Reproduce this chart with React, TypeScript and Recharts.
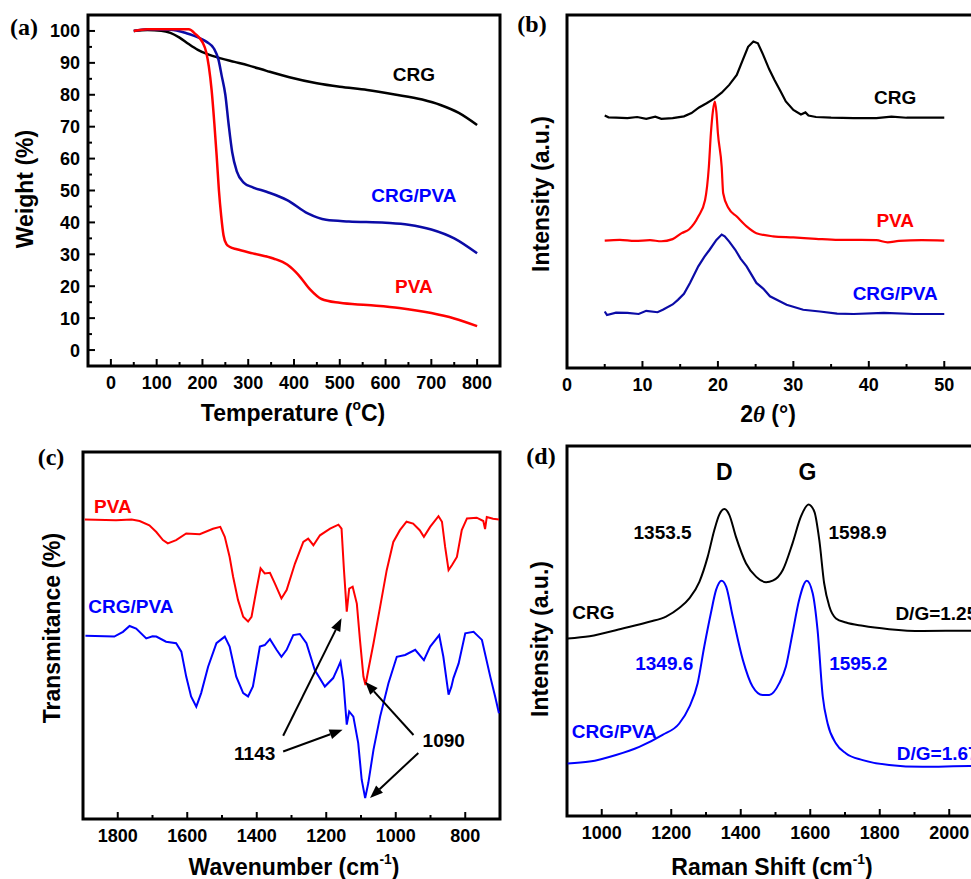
import React from 'react'
import {
  LineChart,
  Line,
  XAxis,
  YAxis,
  ReferenceArea,
  ReferenceDot,
  ReferenceLine,
} from 'recharts'

type Pt = [number, number]

// (a) TGA — temperature (°C), weight (%)
const tgaCrg: Pt[] = [
  [50, 100], [80, 100.3], [110, 100.1], [130, 99.4], [150, 97.9], [170, 95.9],
  [190, 94.1], [210, 92.8], [240, 91.4], [270, 90.3], [300, 89.2], [340, 87.5],
  [390, 85.5], [450, 83.6], [500, 82.5], [560, 81.5], [620, 80.1], [680, 78.5],
  [720, 76.8], [760, 74.3], [800, 70.5],
]
const tgaCrgPva: Pt[] = [
  [50, 100], [80, 100.5], [130, 100.4], [165, 99.3], [195, 97.7], [210, 96.5],
  [225, 94.5], [235, 91], [242, 86], [250, 80], [257, 71], [265, 62], [275, 56],
  [290, 52.5], [310, 51], [340, 49.6], [385, 47], [430, 42.8], [470, 40.8],
  [520, 40.3], [600, 39.9], [650, 39.3], [700, 37.8], [750, 35], [800, 30.3],
]
const tgaPva: Pt[] = [
  [50, 100], [80, 100.5], [170, 100.5], [185, 99], [200, 96.5], [208, 93.5],
  [214, 88.8], [220, 81.5], [226, 71], [231, 61], [236, 50], [241, 42], [246, 36],
  [252, 33.3], [260, 32.3], [275, 31.6], [310, 30.3], [355, 28.7], [385, 26.8],
  [410, 23.5], [435, 19], [460, 16], [500, 14.8], [560, 14.1], [630, 13.2],
  [700, 11.6], [750, 9.9], [800, 7.5],
]
const tgaXTicks = [0, 50, 100, 150, 200, 250, 300, 350, 400, 450, 500, 550, 600, 650, 700, 750, 800]
const tgaXLabels = [0, 100, 200, 300, 400, 500, 600, 700, 800]
const tgaYTicks = [0, 5, 10, 15, 20, 25, 30, 35, 40, 45, 50, 55, 60, 65, 70, 75, 80, 85, 90, 95, 100]
const tgaYLabels = [0, 10, 20, 30, 40, 50, 60, 70, 80, 90, 100]

// (b) XRD — 2θ (°), intensity (a.u.)
const xrdCrg: Pt[] = [
  [5, 71.5], [5.5, 71], [6.5, 70.9], [8, 70.8], [9.3, 71.1], [10.5, 70.6], [11.7, 71.2],
  [12.5, 70.6], [14, 70.8], [15.5, 71.3], [16.5, 72.2], [17.5, 73.8], [18.5, 75], [19.5, 76.3],
  [20.5, 78], [21.5, 80.2], [22.5, 83], [23.3, 87.3], [24, 91], [24.7, 92.5], [25.3, 92],
  [26, 88.7], [26.8, 84.6], [27.5, 81.6], [28.3, 78.4], [29, 75.5], [30, 73.1], [31, 71.8],
  [31.6, 72.4], [32, 71.5], [33, 71.1], [35, 70.9], [38, 70.8], [41, 70.8], [43, 71.2],
  [45, 70.9], [48, 70.9], [50, 70.9],
]
const xrdPva: Pt[] = [
  [5, 36.1], [7, 36.3], [9, 36], [11, 36.2], [12.5, 35.9], [14, 36.5], [15.2, 38.2],
  [16.2, 39.3], [17.4, 42.9], [18.3, 47.6], [18.8, 57], [19.07, 66.5], [19.35, 73],
  [19.6, 75.5], [19.8, 72.5], [20, 66.5], [20.5, 57], [20.7, 49.5], [21.4, 45.3],
  [22.5, 42.9], [23.8, 40.1], [25.1, 38.2], [27.3, 37.3], [30, 37], [33, 36.6],
  [36, 36.3], [39, 36.3], [41, 36.2], [42.5, 35.6], [44, 36], [47, 36.2], [50, 36.1],
]
const xrdCrgPva: Pt[] = [
  [5, 16], [5.3, 15], [6.5, 15.7], [8, 15.6], [9.5, 15.3], [10.5, 16.2], [12, 15.8],
  [12.7, 16.5], [14, 18], [14.7, 19.3], [15.5, 21], [16.3, 24.1], [17.4, 28.8],
  [18.2, 31.5], [18.9, 33.5], [19.8, 36.3], [20.5, 37.8], [20.9, 37.3], [21.5, 35.8],
  [22.3, 33.5], [23, 31], [23.8, 28.8], [25.1, 24.1], [26, 22.5], [26.9, 20.3],
  [29.1, 17.9], [31.3, 16.5], [33.5, 16], [35.8, 15.4], [38, 15.3], [42, 15.6],
  [46, 15.3], [50, 15.3],
]
const xrdXTicks = [0, 5, 10, 15, 20, 25, 30, 35, 40, 45, 50]
const xrdXLabels = [0, 10, 20, 30, 40, 50]

// (c) FTIR — wavenumber (cm-1), transmittance
const ftirPva: Pt[] = [
  [1895, 81.6], [1805, 81.4], [1760, 81.6], [1737, 81.2], [1709, 80], [1689, 78.2],
  [1670, 76], [1656, 75.1], [1632, 76], [1603, 77.8], [1564, 77.6], [1526, 79.1],
  [1505, 79.6], [1492, 76.9], [1478, 71.4], [1468, 66], [1454, 59.7], [1439, 55.1],
  [1425, 53.8], [1415, 55.1], [1401, 62.4], [1389, 68.3], [1377, 66.9], [1362, 67.1],
  [1348, 64.2], [1329, 60.1], [1314, 62.4], [1290, 69.6], [1266, 75.5], [1252, 76.4],
  [1237, 74.6], [1218, 77.3], [1189, 79.1], [1165, 80.2], [1156, 79.1], [1149, 67.8],
  [1141, 56.5], [1134, 62.8], [1124, 63.3], [1112, 58.7], [1103, 48.8], [1093, 38.8],
  [1087, 36.5], [1079, 40.6], [1064, 47.9], [1045, 57.8], [1026, 67.8], [1007, 75.5],
  [988, 78.7], [969, 81], [950, 80.5], [931, 78.7], [919, 76.9], [901, 79.6], [877, 82.5],
  [867, 81], [858, 74.2], [848, 67.8], [838, 69.2], [824, 71.4], [810, 78.7], [795, 81.9],
  [767, 82.1], [748, 81.2], [743, 79], [738, 82.3], [720, 81.8], [703, 81.6],
]
const ftirCrgPva: Pt[] = [
  [1893, 49.9], [1810, 49.7], [1785, 51], [1766, 52.6], [1747, 51.9], [1718, 49.2],
  [1700, 49.8], [1689, 49.7], [1661, 48.3], [1632, 47.9], [1617, 45.6], [1603, 38.8],
  [1589, 33.4], [1574, 30.6], [1560, 34.3], [1540, 41.5], [1516, 47.9], [1492, 49.7],
  [1478, 47], [1459, 38.8], [1439, 34.3], [1425, 33.4], [1411, 36.1], [1391, 47],
  [1377, 47.4], [1362, 49], [1343, 46.1], [1329, 44.2], [1314, 46.1], [1295, 50.1],
  [1276, 50.4], [1257, 47.9], [1233, 40.6], [1204, 36.1], [1180, 38.4], [1165, 41.5],
  [1159, 42.8], [1151, 37.8], [1141, 25.7], [1134, 29.3], [1122, 27.9], [1108, 20.7],
  [1098, 10.7], [1088, 5.7], [1079, 9.8], [1064, 18.9], [1045, 27.9], [1021, 37],
  [997, 44.2], [973, 44.7], [944, 46.1], [919, 43.3], [901, 47], [875, 50.1], [863, 44.2],
  [848, 33.9], [840, 36], [834, 38.4], [819, 42.4], [800, 50.6], [776, 51], [752, 48.8],
  [728, 38.8], [714, 33.4], [703, 28.8],
]
const ftirXTicks = [1800, 1700, 1600, 1500, 1400, 1300, 1200, 1100, 1000, 900, 800]
const ftirXLabels = [1800, 1600, 1400, 1200, 1000, 800]
// arrows: [from, to] in (wavenumber, transmittance)
const ftirArrows: [Pt, Pt][] = [
  [[1324, 22.7], [1156, 54.7]],
  [[1324, 18.4], [1153, 24.3]],
  [[949, 22.9], [1088, 37.4]],
  [[935, 18], [1074, 5.7]],
]

// (d) Raman — shift (cm-1), intensity (a.u.)
const ramanCrg: Pt[] = [
  [902, 48], [965, 48.6], [1060, 50.7], [1137, 52.5], [1185, 53.9], [1223, 56.2],
  [1252, 58.8], [1281, 63.3], [1305, 70.1], [1324, 77.3], [1338, 81.4], [1353, 83],
  [1367, 81.4], [1386, 75.5], [1415, 68.3], [1444, 64.7], [1473, 63.2], [1492, 63.6],
  [1521, 66.5], [1549, 73.7], [1573, 80.9], [1595, 84.2], [1612, 82.2], [1626, 74.6],
  [1640, 62.9], [1655, 56.6], [1674, 53.4], [1703, 52.3], [1751, 51.4], [1827, 50.5],
  [1923, 50], [2058, 50.1], [2100, 50.1],
]
const ramanCrgPva: Pt[] = [
  [902, 14.2], [965, 14.7], [1041, 16.5], [1108, 18.7], [1175, 21.9], [1223, 25],
  [1252, 29.5], [1276, 35.9], [1295, 45.8], [1314, 54.8], [1329, 61.1], [1345, 63.6],
  [1358, 62], [1377, 53.9], [1406, 42.2], [1434, 35], [1463, 32.7], [1482, 32.7],
  [1511, 35.9], [1530, 40.4], [1549, 49.4], [1568, 58.4], [1590, 63.6], [1607, 60.2],
  [1621, 50.3], [1636, 32.3], [1650, 25], [1674, 19.6], [1703, 16.9], [1751, 15.1],
  [1827, 13.8], [1923, 13.3], [2058, 13.5], [2100, 13.5],
]
const ramanXTicks = [1000, 1100, 1200, 1300, 1400, 1500, 1600, 1700, 1800, 1900, 2000]
const ramanXLabels = [1000, 1200, 1400, 1600, 1800, 2000]

const SANS = '"Liberation Sans", Arial, Helvetica, sans-serif'
const SERIF = '"Liberation Serif", "Times New Roman", serif'
const RED = '#ff0000'
const BLUE = '#0000ff'
const NAVY = '#0b0ba6'

const PAD_L = 60
const PAD_T = 6
const PAD_R = 6
const PAD_B = 40
const TM = 4

const rows = (pts: Pt[]) => pts.map(([x, y]) => ({ x, y }))

const bottomTick = (labels: number[]) => (props: any) => {
  const { x, y, payload } = props
  const axisY = y - TM
  const major = labels.includes(payload.value)
  return (
    <g>
      <line x1={x} x2={x} y1={axisY} y2={axisY - (major ? 7 : 4)} stroke="#000" strokeWidth={2} />
      {major ? (
        <text x={x} y={axisY + 23} textAnchor="middle" fontFamily={SANS} fontWeight="bold" fontSize={18} fill="#000">
          {payload.value}
        </text>
      ) : null}
    </g>
  )
}

const leftTick = (labels: number[]) => (props: any) => {
  const { x, y, payload } = props
  const axisX = x + TM
  const major = labels.includes(payload.value)
  return (
    <g>
      <line x1={axisX} x2={axisX + (major ? 7 : 4)} y1={y} y2={y} stroke="#000" strokeWidth={2} />
      {major ? (
        <text x={axisX - 8} y={y + 6.5} textAnchor="end" fontFamily={SANS} fontWeight="bold" fontSize={18} fill="#000">
          {payload.value}
        </text>
      ) : null}
    </g>
  )
}

const note = (key: string, x: number, y: number, text: string, color: string, size = 19, anchor = 'middle') => (
  <ReferenceDot
    key={key}
    x={x}
    y={y}
    r={0}
    ifOverflow="visible"
    isFront
    shape={(p: any) => (
      <text x={p.cx} y={p.cy} dy="0.36em" textAnchor={anchor} fontFamily={SANS} fontWeight="bold" fontSize={size} fill={color}>
        {text}
      </text>
    )}
  />
)

const arrowShape = (p: any) => {
  const { x1, y1, x2, y2 } = p
  const a = Math.atan2(y2 - y1, x2 - x1)
  const len = 13
  const half = 5
  const bx = x2 - len * Math.cos(a)
  const by = y2 - len * Math.sin(a)
  const nx = -Math.sin(a) * half
  const ny = Math.cos(a) * half
  return (
    <g>
      <line x1={x1} y1={y1} x2={bx} y2={by} stroke="#000" strokeWidth={2} />
      <polygon points={`${x2},${y2} ${bx + nx},${by + ny} ${bx - nx},${by - ny}`} fill="#000" />
    </g>
  )
}

interface Box {
  left: number
  top: number
  width: number
  height: number
}

interface PanelProps {
  box: Box
  xDomain: [number, number]
  yDomain: [number, number]
  xTicks: number[]
  xLabels: number[]
  yTicks?: number[]
  yLabels?: number[]
  reversed?: boolean
  children: React.ReactNode
}

function Panel({ box, xDomain, yDomain, xTicks, xLabels, yTicks, yLabels, reversed, children }: PanelProps) {
  return (
    <div style={{ position: 'absolute', left: box.left - PAD_L, top: box.top - PAD_T }}>
      <LineChart
        width={PAD_L + box.width + PAD_R}
        height={PAD_T + box.height + PAD_B}
        margin={{ top: PAD_T, right: PAD_R, left: 0, bottom: 0 }}
      >
        <XAxis
          type="number"
          dataKey="x"
          domain={xDomain}
          allowDataOverflow
          reversed={reversed}
          ticks={xTicks}
          interval={0}
          height={PAD_B}
          axisLine={false}
          tickLine={false}
          tickSize={0}
          tickMargin={TM}
          tick={bottomTick(xLabels)}
        />
        <YAxis
          type="number"
          dataKey="y"
          domain={yDomain}
          allowDataOverflow
          width={PAD_L}
          axisLine={false}
          tickLine={false}
          tickSize={0}
          tickMargin={TM}
          ticks={yTicks}
          interval={0}
          tick={yTicks && yLabels ? leftTick(yLabels) : false}
        />
        <ReferenceArea
          x1={xDomain[0]}
          x2={xDomain[1]}
          y1={yDomain[0]}
          y2={yDomain[1]}
          fill="none"
          fillOpacity={0}
          stroke="#000"
          strokeWidth={3}
          ifOverflow="visible"
        />
        {children}
      </LineChart>
    </div>
  )
}

function Text({
  x,
  y,
  size = 23,
  rotate = false,
  serif = false,
  children,
}: {
  x: number
  y: number
  size?: number
  rotate?: boolean
  serif?: boolean
  children: React.ReactNode
}) {
  return (
    <div
      style={{
        position: 'absolute',
        left: x,
        top: y,
        transform: `translate(-50%, -50%)${rotate ? ' rotate(-90deg)' : ''}`,
        fontFamily: serif ? SERIF : SANS,
        fontWeight: 700,
        fontSize: size,
        lineHeight: 1,
        whiteSpace: 'nowrap',
        color: '#000',
      }}
    >
      {children}
    </div>
  )
}

const sup = (s: string) => <sup style={{ fontSize: '0.6em', verticalAlign: '0.75em', lineHeight: 0 }}>{s}</sup>

export default function App() {
  return (
    <div
      style={{
        position: 'fixed',
        left: 0,
        top: 0,
        width: 971,
        height: 879,
        overflow: 'hidden',
        background: '#fff',
      }}
    >
      <Panel
        box={{ left: 88, top: 15, width: 412, height: 351 }}
        xDomain={[-50, 850]}
        yDomain={[-5, 105]}
        xTicks={tgaXTicks}
        xLabels={tgaXLabels}
        yTicks={tgaYTicks}
        yLabels={tgaYLabels}
      >
        <Line data={rows(tgaCrg)} dataKey="y" type="monotone" stroke="#000" strokeWidth={2.5} dot={false} isAnimationActive={false} />
        <Line data={rows(tgaCrgPva)} dataKey="y" type="monotone" stroke={NAVY} strokeWidth={2.5} dot={false} isAnimationActive={false} />
        <Line data={rows(tgaPva)} dataKey="y" type="monotone" stroke={RED} strokeWidth={2.5} dot={false} isAnimationActive={false} />
        {note('a1', 662, 86.5, 'CRG', '#000')}
        {note('a2', 662, 48.6, 'CRG/PVA', BLUE)}
        {note('a3', 662, 19.9, 'PVA', RED)}
      </Panel>

      <Panel
        box={{ left: 567, top: 15, width: 415, height: 353 }}
        xDomain={[0, 55]}
        yDomain={[0, 100]}
        xTicks={xrdXTicks}
        xLabels={xrdXLabels}
      >
        <Line data={rows(xrdCrg)} dataKey="y" type="linear" stroke="#000" strokeWidth={2.2} dot={false} isAnimationActive={false} />
        <Line data={rows(xrdPva)} dataKey="y" type="monotone" stroke={RED} strokeWidth={2.2} dot={false} isAnimationActive={false} />
        <Line data={rows(xrdCrgPva)} dataKey="y" type="linear" stroke={NAVY} strokeWidth={2.2} dot={false} isAnimationActive={false} />
        {note('b1', 43.5, 76.7, 'CRG', '#000')}
        {note('b2', 43.5, 41.8, 'PVA', RED)}
        {note('b3', 43.5, 21.2, 'CRG/PVA', BLUE)}
      </Panel>

      <Panel
        box={{ left: 83, top: 452, width: 417, height: 367 }}
        xDomain={[700, 1900]}
        yDomain={[0, 100]}
        xTicks={ftirXTicks}
        xLabels={ftirXLabels}
        reversed
      >
        <Line data={rows(ftirPva)} dataKey="y" type="linear" stroke={RED} strokeWidth={2} dot={false} isAnimationActive={false} />
        <Line data={rows(ftirCrgPva)} dataKey="y" type="linear" stroke={BLUE} strokeWidth={2} dot={false} isAnimationActive={false} />
        {ftirArrows.map(([from, to], i) => (
          <ReferenceLine
            key={`arr${i}`}
            segment={[{ x: from[0], y: from[1] }, { x: to[0], y: to[1] }]}
            stroke="#000"
            strokeWidth={2}
            ifOverflow="visible"
            shape={arrowShape}
          />
        ))}
        {note('c1', 1814, 85.2, 'PVA', RED)}
        {note('c2', 1762, 58, 'CRG/PVA', BLUE)}
        {note('c3', 1406, 18, '1143', '#000')}
        {note('c4', 862, 21.6, '1090', '#000')}
      </Panel>

      <Panel
        box={{ left: 567, top: 446, width: 417, height: 370 }}
        xDomain={[900, 2100]}
        yDomain={[0, 100]}
        xTicks={ramanXTicks}
        xLabels={ramanXLabels}
      >
        <Line data={rows(ramanCrg)} dataKey="y" type="monotone" stroke="#000" strokeWidth={2} dot={false} isAnimationActive={false} />
        <Line data={rows(ramanCrgPva)} dataKey="y" type="monotone" stroke={BLUE} strokeWidth={2} dot={false} isAnimationActive={false} />
        {note('d1', 1353, 93.1, 'D', '#000', 23)}
        {note('d2', 1592, 93.1, 'G', '#000', 23)}
        {note('d3', 1175, 76.8, '1353.5', '#000')}
        {note('d4', 1736, 76.8, '1598.9', '#000')}
        {note('d5', 976, 55, 'CRG', '#000')}
        {note('d6', 1845, 54.8, 'D/G=1.25', '#000', 19, 'start')}
        {note('d7', 1180, 41.3, '1349.6', BLUE)}
        {note('d8', 1738, 41.3, '1595.2', BLUE)}
        {note('d9', 1036, 23, 'CRG/PVA', BLUE)}
        {note('d10', 1849, 17.1, 'D/G=1.67', BLUE, 19, 'start')}
      </Panel>

      <Text x={24} y={27} size={24} serif>(a)</Text>
      <Text x={532} y={24} size={24} serif>(b)</Text>
      <Text x={51} y={457} size={24} serif>(c)</Text>
      <Text x={541} y={456} size={24} serif>(d)</Text>

      <Text x={25} y={189} rotate>Weight (%)</Text>
      <Text x={293} y={413}>Temperature ({sup('o')}C)</Text>
      <Text x={541} y={194} rotate>Intensity (a.u.)</Text>
      <Text x={768} y={414}>
        2<span style={{ fontFamily: SERIF, fontStyle: 'italic' }}>θ</span> (°)
      </Text>
      <Text x={52} y={628} rotate>Transmitance (%)</Text>
      <Text x={294} y={867}>Wavenumber (cm{sup('-1')})</Text>
      <Text x={540} y={639} rotate>Intensity (a.u.)</Text>
      <Text x={772} y={867}>Raman Shift (cm{sup('-1')})</Text>
    </div>
  )
}
